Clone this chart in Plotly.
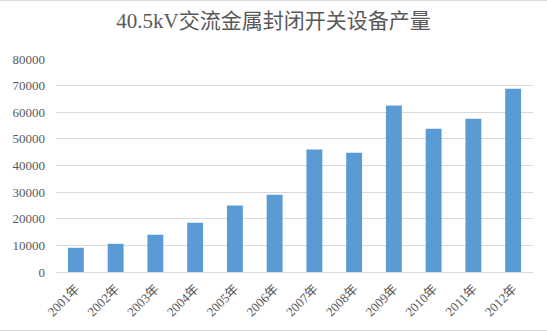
import plotly.graph_objects as go

years = ["2001年", "2002年", "2003年", "2004年", "2005年", "2006年",
         "2007年", "2008年", "2009年", "2010年", "2011年", "2012年"]
output = [9100, 10600, 14000, 18500, 25000, 29000,
          46000, 44800, 62500, 53800, 57600, 68800]
y_ticks = [0, 10000, 20000, 30000, 40000, 50000, 60000, 70000, 80000]
title_text = "40.5kV交流金属封闭开关设备产量"

FONT = "'Liberation Serif', 'Noto Sans CJK SC', serif"

fig = go.Figure(go.Bar(
    x=years, y=output,
    marker=dict(color="#5b9bd5", line=dict(width=0)),
    hoverinfo="x+y",
))

fig.update_layout(
    width=547, height=332,
    margin=dict(l=54, r=14, t=59, b=60),
    paper_bgcolor="white", plot_bgcolor="white",
    bargap=0.6,
    showlegend=False,
    title=dict(text=title_text, x=0.5, xanchor="center", y=0.937, yanchor="middle",
               font=dict(family=FONT, size=21, color="#595959")),
    font=dict(family=FONT, size=13, color="#595959"),
    xaxis=dict(tickangle=-45, showgrid=False, showline=True, linecolor="#d9d9d9",
               linewidth=1, ticks="outside", ticklen=3, tickcolor="rgba(0,0,0,0)",
               tickfont=dict(family=FONT, size=13, color="#595959")),
    yaxis=dict(range=[0, 80000], tickvals=y_ticks, ticktext=[str(v) for v in y_ticks],
               showgrid=True, gridcolor="#d9d9d9", gridwidth=1, zeroline=False,
               showline=False, ticks="", ticklabelstandoff=10,
               tickfont=dict(family=FONT, size=13, color="#595959")),
    shapes=[
        dict(type="line", xref="paper", yref="paper", x0=-0.2, x1=1.2,
             y0=1 + 58.5 / 213, y1=1 + 58.5 / 213, line=dict(color="#d9d9d9", width=1)),
        dict(type="line", xref="paper", yref="paper", x0=-0.2, x1=1.2,
             y0=-58.5 / 213, y1=-58.5 / 213, line=dict(color="#d9d9d9", width=1)),
    ],
)

fig.write_html("out.html")
